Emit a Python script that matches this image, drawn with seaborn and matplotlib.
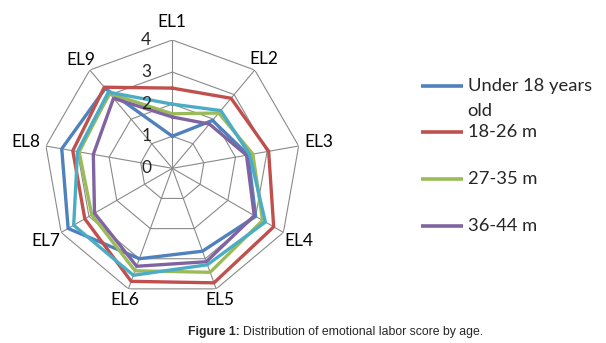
import numpy as np
import pandas as pd
import matplotlib
matplotlib.use("Agg")
import matplotlib.pyplot as plt
import matplotlib.transforms as mtransforms
import seaborn as sns

# data
axes_labels = ["EL1", "EL2", "EL3", "EL4", "EL5", "EL6", "EL7", "EL8", "EL9"]
under_18 = [1.0, 1.95, 2.4, 3.0, 2.75, 3.0, 3.75, 3.5, 3.25]
m_18_26 = [2.5, 2.85, 3.05, 3.65, 3.8, 3.75, 3.15, 3.15, 3.3]
m_27_35 = [1.7, 2.25, 2.55, 3.25, 3.45, 3.4, 2.9, 2.95, 3.05]
m_36_44 = [1.6, 1.8, 2.35, 2.95, 3.1, 3.25, 2.8, 2.5, 2.85]
m_45_up = [2.0, 2.35, 2.45, 3.35, 3.2, 3.55, 3.55, 3.0, 3.1]  # 5th series, cut from legend
series_names = ["Under 18 years\nold", "18-26 m", "27-35 m", "36-44 m", "45+ m"]
series_values = [under_18, m_18_26, m_27_35, m_36_44, m_45_up]
colors = ["#4F81BD", "#C0504D", "#9BBB59", "#8064A2", "#4BACC6"]
levels = [0, 1, 2, 3, 4]

sns.set_style("white")
plt.rcParams["font.family"] = ["Lato", "DejaVu Sans"]

n = len(axes_labels)
angles = np.linspace(0, 2 * np.pi, n, endpoint=False)
closed = np.append(angles, angles[0])

rows = []
for name, vals in zip(series_names, series_values):
    for a, v in zip(closed, vals + vals[:1]):
        rows.append({"angle": a, "value": v, "group": name})
df = pd.DataFrame(rows)

fig = plt.figure(figsize=(6.06, 3.43), dpi=100)
cx, cy, R = 172.3 / 606, 1 - 168.3 / 343, 128.3
ax = fig.add_axes([cx - R / 606, cy - R / 343, 2 * R / 606, 2 * R / 343], projection="polar")
ax.set_theta_offset(np.pi / 2)
ax.set_theta_direction(-1)
ax.set_ylim(0, 4)
ax.grid(False)
ax.spines["polar"].set_visible(False)
ax.set_xticks([])
ax.set_yticks([])
ax.patch.set_alpha(0)

grid_c = "#8a8a8a"
for lv in levels[1:]:
    ax.plot(closed, [lv] * len(closed), color=grid_c, lw=0.8, zorder=1)
for a in angles:
    ax.plot([a, a], [0, levels[-1]], color=grid_c, lw=0.8, zorder=1)

sns.lineplot(data=df, x="angle", y="value", hue="group", hue_order=series_names,
             palette=colors, sort=False, estimator=None, lw=2.4, legend=False,
             ax=ax, zorder=3)
ax.set_xlabel("")
ax.set_ylabel("")

label_r = [4.57, 4.46, 4.65, 4.56, 4.38, 4.37, 4.55, 4.64, 4.42]
for a, lab, r in zip(angles, axes_labels, label_r):
    ax.text(a, r, lab, ha="center", va="center", fontsize=12.5, color="black")

off = mtransforms.offset_copy(ax.transData, fig=fig, x=-26, y=0, units="dots")
for lv in levels:
    ax.text(0, lv, str(lv), transform=off, ha="center", va="center", fontsize=12.5)

# legend (first four series only, as in the reference)
leg_y = [85.7, 132.3, 179.0, 225.7]
for name, col, y in zip(series_names[:4], colors[:4], leg_y):
    yf = 1 - y / 343
    fig.add_artist(plt.Line2D([421.5 / 606, 462.5 / 606], [yf, yf], color=col, lw=2.6,
                              solid_capstyle="butt"))
    for k, part in enumerate(name.split("\n")):
        fig.text(467.5 / 606, 1 - (y + 25 * k) / 343, part, ha="left", va="center",
                 fontsize=13.2)

# caption
renderer = fig.canvas.get_renderer()
t1 = fig.text(188 / 606, 1 - 332 / 343, "Figure 1:", fontweight="bold", fontsize=8.8,
              family=["Liberation Sans"], va="center", ha="left")
bb = t1.get_window_extent(renderer)
fig.text((bb.x1 + 3) / 606, 1 - 332 / 343, "Distribution of emotional labor score by age.",
         fontsize=8.8, family=["Liberation Sans"], va="center", ha="left")

fig.savefig("out.png", dpi=100)
